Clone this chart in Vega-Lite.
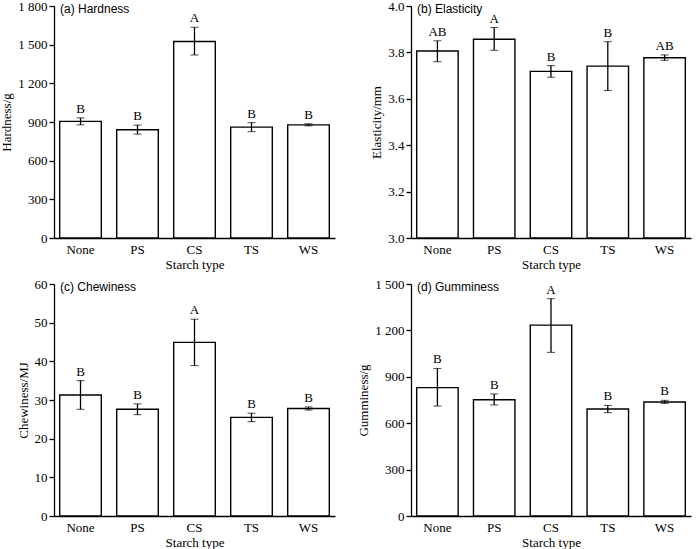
{
  "$schema": "https://vega.github.io/schema/vega-lite/v6.json",
  "background": "white",
  "padding": {"left": 0, "top": 0, "right": 5, "bottom": 5},
  "bounds": "flush",
  "columns": 2,
  "spacing": {"column": 76, "row": 46},
  "datasets": {
    "hardness": [
      {"type": "None", "mean": 905, "lo": 878, "hi": 932, "letter": "B"},
      {"type": "PS", "mean": 840, "lo": 806, "hi": 876, "letter": "B"},
      {"type": "CS", "mean": 1525, "lo": 1420, "hi": 1635, "letter": "A"},
      {"type": "TS", "mean": 860, "lo": 825, "hi": 895, "letter": "B"},
      {"type": "WS", "mean": 878, "lo": 870, "hi": 886, "letter": "B"}
    ],
    "elasticity": [
      {"type": "None", "mean": 3.806, "lo": 3.760, "hi": 3.850, "letter": "AB"},
      {"type": "PS", "mean": 3.857, "lo": 3.809, "hi": 3.907, "letter": "A"},
      {"type": "CS", "mean": 3.718, "lo": 3.693, "hi": 3.743, "letter": "B"},
      {"type": "TS", "mean": 3.741, "lo": 3.636, "hi": 3.846, "letter": "B"},
      {"type": "WS", "mean": 3.777, "lo": 3.766, "hi": 3.789, "letter": "AB"}
    ],
    "chewiness": [
      {"type": "None", "mean": 31.3, "lo": 27.6, "hi": 35.0, "letter": "B"},
      {"type": "PS", "mean": 27.6, "lo": 26.2, "hi": 29.0, "letter": "B"},
      {"type": "CS", "mean": 44.9, "lo": 38.9, "hi": 50.9, "letter": "A"},
      {"type": "TS", "mean": 25.5, "lo": 24.4, "hi": 26.6, "letter": "B"},
      {"type": "WS", "mean": 27.8, "lo": 27.4, "hi": 28.2, "letter": "B"}
    ],
    "gumminess": [
      {"type": "None", "mean": 830, "lo": 711, "hi": 954, "letter": "B"},
      {"type": "PS", "mean": 752, "lo": 718, "hi": 789, "letter": "B"},
      {"type": "CS", "mean": 1234, "lo": 1058, "hi": 1405, "letter": "A"},
      {"type": "TS", "mean": 692, "lo": 668, "hi": 715, "letter": "B"},
      {"type": "WS", "mean": 737, "lo": 728, "hi": 748, "letter": "B"}
    ]
  },
  "concat": [
    {
      "title": {"text": "(a) Hardness"},
      "width": 281,
      "height": 232,
      "data": {"name": "hardness"},
      "encoding": {
        "x": {"field": "type", "type": "nominal", "sort": null, "title": "Starch type"}
      },
      "layer": [
        {
          "mark": {"type": "bar", "fill": "white", "stroke": "black", "strokeWidth": 1.4},
          "encoding": {
            "y": {"field": "mean", "type": "quantitative", "title": "Hardness/g",
              "scale": {"domain": [0, 1800], "nice": false},
              "axis": {"values": [0, 300, 600, 900, 1200, 1500, 1800],
                "labelExpr": "replace(format(datum.value, ','), ',', ' ')"}}
          }
        },
        {
          "mark": {"type": "errorbar", "ticks": {"size": 8, "color": "black", "strokeWidth": 1.3}, "rule": {"color": "black", "strokeWidth": 1.3}},
          "encoding": {
            "y": {"field": "lo", "type": "quantitative", "title": "Hardness/g"},
            "y2": {"field": "hi"}
          }
        },
        {
          "mark": {"type": "text", "baseline": "bottom", "dy": -2},
          "encoding": {
            "y": {"field": "hi", "type": "quantitative", "title": "Hardness/g"},
            "text": {"field": "letter"}
          }
        }
      ]
    },
    {
      "title": {"text": "(b) Elasticity"},
      "width": 280,
      "height": 232,
      "data": {"name": "elasticity"},
      "encoding": {
        "x": {"field": "type", "type": "nominal", "sort": null, "title": "Starch type"}
      },
      "layer": [
        {
          "mark": {"type": "bar", "fill": "white", "stroke": "black", "strokeWidth": 1.4},
          "encoding": {
            "y": {"field": "mean", "type": "quantitative", "title": "Elasticity/mm",
              "scale": {"domain": [3.0, 4.0], "nice": false, "zero": false},
              "axis": {"values": [3.0, 3.2, 3.4, 3.6, 3.8, 4.0], "format": ".1f"}},
            "y2": {"datum": 3.0}
          }
        },
        {
          "mark": {"type": "errorbar", "ticks": {"size": 8, "color": "black", "strokeWidth": 1.3}, "rule": {"color": "black", "strokeWidth": 1.3}},
          "encoding": {
            "y": {"field": "lo", "type": "quantitative", "title": "Elasticity/mm"},
            "y2": {"field": "hi"}
          }
        },
        {
          "mark": {"type": "text", "baseline": "bottom", "dy": -2},
          "encoding": {
            "y": {"field": "hi", "type": "quantitative", "title": "Elasticity/mm"},
            "text": {"field": "letter"}
          }
        }
      ]
    },
    {
      "title": {"text": "(c) Chewiness"},
      "width": 281,
      "height": 232,
      "data": {"name": "chewiness"},
      "encoding": {
        "x": {"field": "type", "type": "nominal", "sort": null, "title": "Starch type"}
      },
      "layer": [
        {
          "mark": {"type": "bar", "fill": "white", "stroke": "black", "strokeWidth": 1.4},
          "encoding": {
            "y": {"field": "mean", "type": "quantitative", "title": "Chewiness/MJ",
              "scale": {"domain": [0, 60], "nice": false},
              "axis": {"values": [0, 10, 20, 30, 40, 50, 60]}}
          }
        },
        {
          "mark": {"type": "errorbar", "ticks": {"size": 8, "color": "black", "strokeWidth": 1.3}, "rule": {"color": "black", "strokeWidth": 1.3}},
          "encoding": {
            "y": {"field": "lo", "type": "quantitative", "title": "Chewiness/MJ"},
            "y2": {"field": "hi"}
          }
        },
        {
          "mark": {"type": "text", "baseline": "bottom", "dy": -2},
          "encoding": {
            "y": {"field": "hi", "type": "quantitative", "title": "Chewiness/MJ"},
            "text": {"field": "letter"}
          }
        }
      ]
    },
    {
      "title": {"text": "(d) Gumminess"},
      "width": 280,
      "height": 232,
      "data": {"name": "gumminess"},
      "encoding": {
        "x": {"field": "type", "type": "nominal", "sort": null, "title": "Starch type"}
      },
      "layer": [
        {
          "mark": {"type": "bar", "fill": "white", "stroke": "black", "strokeWidth": 1.4},
          "encoding": {
            "y": {"field": "mean", "type": "quantitative", "title": "Gumminess/g",
              "scale": {"domain": [0, 1500], "nice": false},
              "axis": {"values": [0, 300, 600, 900, 1200, 1500],
                "labelExpr": "replace(format(datum.value, ','), ',', ' ')"}}
          }
        },
        {
          "mark": {"type": "errorbar", "ticks": {"size": 8, "color": "black", "strokeWidth": 1.3}, "rule": {"color": "black", "strokeWidth": 1.3}},
          "encoding": {
            "y": {"field": "lo", "type": "quantitative", "title": "Gumminess/g"},
            "y2": {"field": "hi"}
          }
        },
        {
          "mark": {"type": "text", "baseline": "bottom", "dy": -2},
          "encoding": {
            "y": {"field": "hi", "type": "quantitative", "title": "Gumminess/g"},
            "text": {"field": "letter"}
          }
        }
      ]
    }
  ],
  "config": {
    "font": "Liberation Serif",
    "view": {"stroke": null},
    "scale": {"bandPaddingInner": 0.27, "bandPaddingOuter": 0.1},
    "axis": {
      "grid": false,
      "domainColor": "black",
      "domainWidth": 1.3,
      "tickColor": "black",
      "tickWidth": 1.3,
      "tickSize": 5,
      "labelFont": "Liberation Serif",
      "labelFontSize": 13,
      "labelColor": "black",
      "labelOverlap": false,
      "labelBound": false,
      "titleFont": "Liberation Serif",
      "titleFontSize": 13,
      "titleFontWeight": "normal",
      "titleColor": "black"
    },
    "axisX": {"ticks": false, "labelAngle": 0, "labelPadding": 5, "titlePadding": 2},
    "axisY": {"titlePadding": 4, "labelPadding": 2, "tickCount": 12},
    "text": {"font": "Liberation Serif", "fontSize": 13, "color": "black"},
    "title": {
      "anchor": "start",
      "frame": "group",
      "font": "Liberation Sans",
      "fontSize": 12,
      "fontWeight": "normal",
      "color": "black",
      "baseline": "middle",
      "offset": -16,
      "dx": 6
    }
  }
}
